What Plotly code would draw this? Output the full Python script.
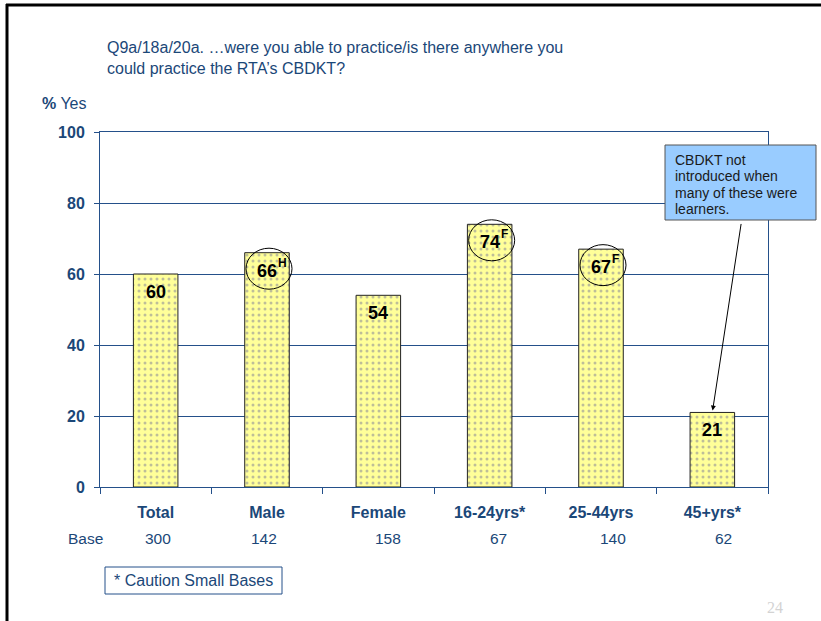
import plotly.graph_objects as go

# ---- data -------------------------------------------------------------
categories = ["Total", "Male", "Female", "16-24yrs*", "25-44yrs", "45+yrs*"]
pct_yes = [60, 66, 54, 74, 67, 21]
sig_letters = ["", "H", "", "F", "F", ""]
base_sizes = ["300", "142", "158", "67", "140", "62"]
y_ticks = [0, 20, 40, 60, 80, 100]

question_text = ("Q9a/18a/20a. \u2026were you able to practice/is there anywhere you<br>"
                 "could practice the RTA\u2019s CBDKT?")
callout_lines = ["CBDKT not", "introduced when", "many of these were", "learners."]
footnote_text = "* Caution Small Bases"
page_number = "24"

# ---- styling ----------------------------------------------------------
W, H = 821, 621
PLOT_L, PLOT_R, PLOT_T, PLOT_B = 100, 768, 132, 487
NAVY_TEXT = "#1B4778"
NAVY_LINE = "#24508A"
FONT = "Liberation Sans"
base_xshift = [2, -3, 10, 9, 12, 11]


def px(x):
    """page pixel x -> paper x"""
    return (x - PLOT_L) / (PLOT_R - PLOT_L)


def py(y):
    """page pixel y -> paper y"""
    return (PLOT_B - y) / (PLOT_B - PLOT_T)


fig = go.Figure()

fig.add_trace(go.Bar(
    x=list(range(len(categories))),
    y=pct_yes,
    width=0.4,
    marker=dict(
        color="#FFFF99",
        line=dict(color="#222222", width=1),
        pattern=dict(shape=".", fgcolor="#7E7E98", bgcolor="#FFFF99",
                     size=6, solidity=0.2),
    ),
    hoverinfo="skip",
    showlegend=False,
))

annotations = []
shapes = []

# value labels, significance letters and rings
for i, (v, sig) in enumerate(zip(pct_yes, sig_letters)):
    annotations.append(dict(
        x=i, y=v, xref="x", yref="y", text=f"<b>{v}</b>", showarrow=False,
        xanchor="center", yanchor="middle", yshift=-18,
        font=dict(family=FONT, size=18, color="#000000"),
    ))
    if sig:
        annotations.append(dict(
            x=i, y=v, xref="x", yref="y", text=f"<b>{sig}</b>", showarrow=False,
            xanchor="left", yanchor="middle", xshift=9, yshift=-10,
            font=dict(family=FONT, size=12, color="#000000"),
        ))
        shapes.append(dict(
            type="circle", xref="x", yref="y",
            xsizemode="pixel", ysizemode="pixel",
            xanchor=i, yanchor=v,
            x0=2 - 23, x1=2 + 23, y0=-16 - 20.5, y1=-16 + 20.5,
            line=dict(color="#000000", width=1), layer="above",
        ))

# base row
annotations.append(dict(
    x=px(66), y=py(538), xref="paper", yref="paper", text="Base",
    showarrow=False, xanchor="left", yanchor="middle",
    font=dict(family=FONT, size=15.5, color=NAVY_TEXT),
))
for i, (b, dx) in enumerate(zip(base_sizes, base_xshift)):
    annotations.append(dict(
        x=i, y=py(538), xref="x", yref="paper", text=b, showarrow=False,
        xanchor="center", yanchor="middle", xshift=dx,
        font=dict(family=FONT, size=15.5, color=NAVY_TEXT),
    ))

# question text and axis caption
annotations.append(dict(
    x=px(105), y=py(37), xref="paper", yref="paper", text=question_text,
    showarrow=False, xanchor="left", yanchor="top", align="left",
    font=dict(family=FONT, size=16, color=NAVY_TEXT),
))
annotations.append(dict(
    x=px(40), y=py(103), xref="paper", yref="paper", text="<b>%</b> Yes",
    showarrow=False, xanchor="left", yanchor="middle",
    font=dict(family=FONT, size=16, color=NAVY_TEXT),
))

# callout box with arrow to the 45+ bar
shapes.append(dict(
    type="rect", xref="paper", yref="paper",
    x0=px(665), x1=px(816), y0=py(220), y1=py(145),
    fillcolor="#99CCFF", line=dict(color="#555555", width=1), layer="above",
))
for k, line in enumerate(callout_lines):
    annotations.append(dict(
        x=px(673), y=py(160 + 16.3 * k), xref="paper", yref="paper", text=line,
        showarrow=False, xanchor="left", yanchor="middle",
        font=dict(family=FONT, size=14, color="#1A1A1A"),
    ))
last = len(categories) - 1
annotations.append(dict(
    x=last, y=pct_yes[last], xref="x", yref="y", text="",
    showarrow=True, arrowhead=2, arrowsize=1, arrowwidth=1, arrowcolor="#000000",
    ax=741 - 712, ay=221 - 411, standoff=2,
))

# footnote box
shapes.append(dict(
    type="rect", xref="paper", yref="paper",
    x0=px(105), x1=px(282), y0=py(594), y1=py(567),
    fillcolor="rgba(0,0,0,0)", line=dict(color=NAVY_LINE, width=1),
))
annotations.append(dict(
    x=px(193.5), y=py(580.5), xref="paper", yref="paper", text=footnote_text,
    showarrow=False, xanchor="center", yanchor="middle",
    font=dict(family=FONT, size=16, color=NAVY_TEXT),
))

# page number
annotations.append(dict(
    x=px(775), y=py(607.5), xref="paper", yref="paper", text=page_number,
    showarrow=False, xanchor="center", yanchor="middle",
    font=dict(family="Liberation Serif", size=16, color="#D3D3D3"),
))

# slide frame (top and left rules)
shapes.append(dict(type="line", xref="paper", yref="paper",
                   x0=px(6), x1=px(822), y0=py(5), y1=py(5),
                   line=dict(color="#000000", width=3)))
shapes.append(dict(type="line", xref="paper", yref="paper",
                   x0=px(7), x1=px(7), y0=py(4), y1=py(622),
                   line=dict(color="#000000", width=3)))

fig.update_layout(
    width=W, height=H,
    margin=dict(l=PLOT_L, r=W - PLOT_R, t=PLOT_T, b=H - PLOT_B, pad=0),
    paper_bgcolor="#FFFFFF", plot_bgcolor="#FFFFFF",
    annotations=annotations,
    shapes=shapes,
    xaxis=dict(
        type="linear",
        range=[-0.5, len(categories) - 0.5],
        tickmode="array",
        tickvals=list(range(len(categories))),
        ticktext=categories,
        ticks="", showgrid=False, zeroline=False,
        showline=True, mirror=True, linecolor=NAVY_LINE, linewidth=1,
        tickfont=dict(family=FONT, size=16, color=NAVY_TEXT, weight="bold"),
        ticklabelstandoff=11,
    ),
    xaxis2=dict(
        overlaying="x", range=[-0.5, len(categories) - 0.5],
        tickmode="array",
        tickvals=[i - 0.5 for i in range(len(categories) + 1)],
        ticktext=[""] * (len(categories) + 1),
        ticks="outside", ticklen=6, tickcolor=NAVY_LINE, tickwidth=1,
        showgrid=False, zeroline=False, showline=False,
        side="bottom", anchor="y",
    ),
    yaxis=dict(
        range=[0, 100], tickmode="array", tickvals=y_ticks,
        ticks="outside", ticklen=5, tickcolor=NAVY_LINE, tickwidth=1,
        showgrid=True, gridcolor=NAVY_LINE, gridwidth=1, zeroline=False,
        showline=True, mirror=True, linecolor=NAVY_LINE, linewidth=1,
        tickfont=dict(family=FONT, size=16, color=NAVY_TEXT, weight="bold"),
        ticklabelstandoff=6,
    ),
)

# invisible trace that activates the boundary-tick axis
fig.add_trace(go.Scatter(x=[0], y=[0], xaxis="x2", mode="markers",
                         marker=dict(opacity=0), hoverinfo="skip",
                         showlegend=False))

fig.write_html("out.html")
